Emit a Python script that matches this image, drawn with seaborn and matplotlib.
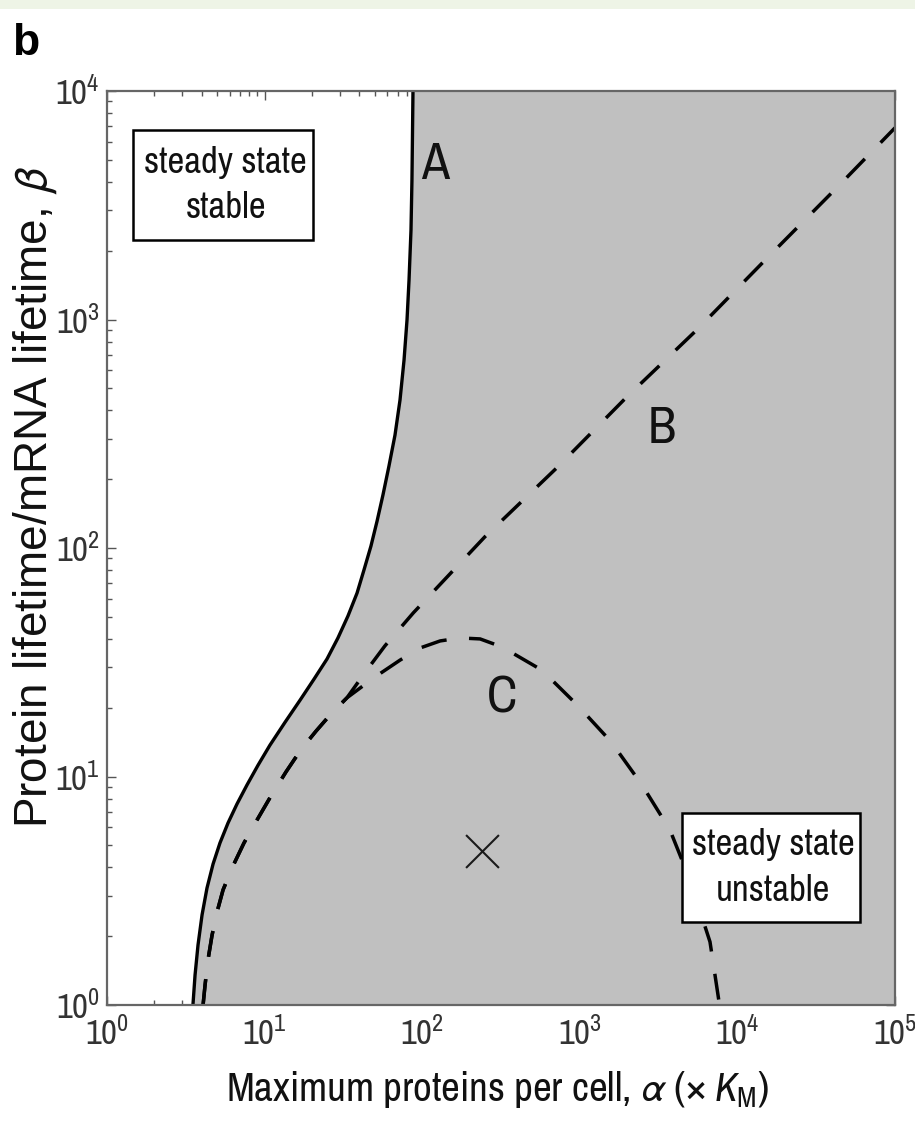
import numpy as np
import pandas as pd
import matplotlib
matplotlib.use("Agg")
import matplotlib.pyplot as plt
import seaborn as sns
from matplotlib.patches import Rectangle
from matplotlib.ticker import LogLocator, NullFormatter

# ---- data ----
a_alpha = [3.51, 3.62, 3.78, 4.01, 4.31, 4.71, 5.21, 5.86, 6.68, 7.73, 9.08, 10.8, 13.5, 16.8, 20.6, 24.9,
           29.2, 33.8, 38.6, 42.7, 47.3, 51.7, 56.4, 61.5, 67.2, 72.3, 76.7, 80.1, 82.5, 84.9, 86.1, 87.4]
a_beta = [1.0, 1.353, 1.83, 2.48, 3.25, 4.14, 5.12, 6.26, 7.58, 9.18, 11.2, 13.7, 17.3, 21.6, 26.7, 32.7,
          40.4, 50.4, 63.5, 80.1, 102, 131, 171, 228, 312, 444, 665, 995, 1489, 2465, 4079, 10000]

b_alpha = [4.07, 4.19, 4.37, 4.64, 4.99, 5.45, 6.3, 7.4, 8.95, 10.98, 13.7, 17.0, 21.2, 26.4, 33.3,
           44, 58, 87.8, 250, 713, 1985, 5520, 15350, 44770, 100000]
b_beta = [1.0, 1.223, 1.573, 2.02, 2.55, 3.19, 4.06, 5.12, 6.45, 8.22, 10.5, 13.1, 15.8, 18.8, 22.1,
          28.9, 37.3, 52, 112, 224, 458, 900, 1850, 3900, 6900]

c_alpha = [4.07, 4.19, 4.37, 4.64, 4.99, 5.45, 6.3, 7.4, 8.95, 10.98, 13.7, 17.0, 21.2, 26.4, 33.3,
           42.7, 54.8, 72.3, 96.8, 130, 174, 233, 321, 575, 960, 1578, 2483, 3735, 5003, 6700, 7700]
c_beta = [1.0, 1.223, 1.573, 2.02, 2.55, 3.19, 4.06, 5.12, 6.45, 8.22, 10.5, 13.1, 15.8, 18.8, 22.1,
          25.1, 28.4, 32.3, 36.5, 39.2, 40.4, 40.0, 36.9, 29.2, 20.6, 14.2, 9.18, 5.83, 3.52, 1.89, 1.0]

cross_alpha = [238]
cross_beta = [4.7]

curve_names = ["A", "B", "C"]
name_alpha = [120, 3300, 320]
name_beta = [4750, 335, 22]

x_ticks = [1, 10, 100, 1000, 10000, 100000]
x_tick_labels = ["$10^{0}$", "$10^{1}$", "$10^{2}$", "$10^{3}$", "$10^{4}$", "$10^{5}$"]
y_ticks = [1, 10, 100, 1000, 10000]
y_tick_labels = ["$10^{0}$", "$10^{1}$", "$10^{2}$", "$10^{3}$", "$10^{4}$"]

box_texts = ["steady state\nstable", "steady state\nunstable"]
x_label = "Maximum proteins per cell, $\\alpha$ (\u00d7 $K_{\\mathrm{M}}$)"
y_label = "Protein lifetime/mRNA lifetime, $\\beta$"
panel_label = "b"

# ---- style ----
NARROW = ["Archivo Narrow", "Barlow Semi Condensed", "Liberation Sans", "DejaVu Sans"]
sns.set_theme(style="ticks")
plt.rcParams["font.family"] = NARROW
plt.rcParams["mathtext.fontset"] = "custom"
plt.rcParams["mathtext.rm"] = "Archivo Narrow"
plt.rcParams["mathtext.it"] = "Archivo Narrow:italic"
plt.rcParams["mathtext.bf"] = "Archivo Narrow:bold"
plt.rcParams["mathtext.fallback"] = "stixsans"

W, H = 915, 1139
fig = plt.figure(figsize=(W / 100, H / 100), dpi=100)
fig.patches.append(Rectangle((0, 1 - 9 / H), 1, 9 / H, transform=fig.transFigure,
                             facecolor="#eef4e6", edgecolor="none", zorder=0))

L, R, T, B = 107, 895, 91, 1005
ax = fig.add_axes([L / W, (H - B) / H, (R - L) / W, (B - T) / H])
ax.set_xscale("log")
ax.set_yscale("log")
ax.set_xlim(1, 1e5)
ax.set_ylim(1, 1e4)

ax.fill_betweenx(a_beta, a_alpha, 1e5, color="#c0c0c0", lw=0, zorder=1)

dfA = pd.DataFrame({"alpha": a_alpha, "beta": a_beta})
dfB = pd.DataFrame({"alpha": b_alpha, "beta": b_beta})
dfC = pd.DataFrame({"alpha": c_alpha, "beta": c_beta})

sns.lineplot(data=dfA, x="alpha", y="beta", sort=False, estimator=None,
             color="black", lw=2.4, ax=ax, zorder=3)
sns.lineplot(data=dfB, x="alpha", y="beta", sort=False, estimator=None,
             color="black", lw=2.5, ax=ax, zorder=3)
ax.lines[-1].set_dashes((7.5, 6.5))
sns.lineplot(data=dfC, x="alpha", y="beta", sort=False, estimator=None,
             color="black", lw=2.5, ax=ax, zorder=3)
ax.lines[-1].set_dashes((7.5, 6.5))

sns.scatterplot(x=cross_alpha, y=cross_beta, marker="x", s=560, color="#1a1a1a",
                linewidth=1.5, ax=ax, zorder=4)

for name, xa, yb in zip(curve_names, name_alpha, name_beta):
    ax.text(xa, yb, name, fontsize=37, ha="center", va="center", color="#111", zorder=5)

boxes = [(0.0334, 0.837, 0.2284, 0.120), (0.7293, 0.0911, 0.2263, 0.1186)]
for (bx, by, bw, bh), txt in zip(boxes, box_texts):
    ax.add_patch(Rectangle((bx, by), bw, bh, transform=ax.transAxes, facecolor="white",
                           edgecolor="black", lw=1.8, zorder=6))
    ax.text(bx + bw / 2 + 0.003, by + bh / 2, txt, transform=ax.transAxes, ha="center",
            va="center", fontsize=26.5, linespacing=1.45, color="#111", zorder=7)

ax.set_xticks(x_ticks, labels=x_tick_labels)
ax.set_yticks(y_ticks, labels=y_tick_labels)
for axis in (ax.xaxis, ax.yaxis):
    axis.set_minor_locator(LogLocator(base=10, subs=np.arange(2, 10), numticks=100))
    axis.set_minor_formatter(NullFormatter())
ax.tick_params(which="both", direction="in", top=True, right=True, color="#555555", width=1.0)
ax.tick_params(which="major", length=6.5, labelsize=25, labelcolor="#333333")
ax.tick_params(which="minor", length=3.6)
ax.tick_params(axis="x", pad=8)
ax.tick_params(axis="y", pad=5)
for sp in ax.spines.values():
    sp.set_color("#666666")
    sp.set_linewidth(1.6)
    sp.set_zorder(8)

ax.set_xlabel(x_label, fontsize=29.5, color="#111", va="center")
ax.xaxis.set_label_coords(0.495, (B - 1090) / (B - T))
ax.set_ylabel(y_label, fontsize=33, color="#111", va="center",
              fontfamily=["Liberation Sans", "DejaVu Sans"])
ax.yaxis.set_label_coords((35 - L) / (R - L), (B - 497) / (B - T))

fig.text(12 / W, 1 - 55 / H, panel_label, fontsize=32, fontweight="bold", ha="left",
         va="baseline", color="black", fontfamily=["Liberation Sans", "DejaVu Sans"])

fig.savefig("out.png", dpi=100)
